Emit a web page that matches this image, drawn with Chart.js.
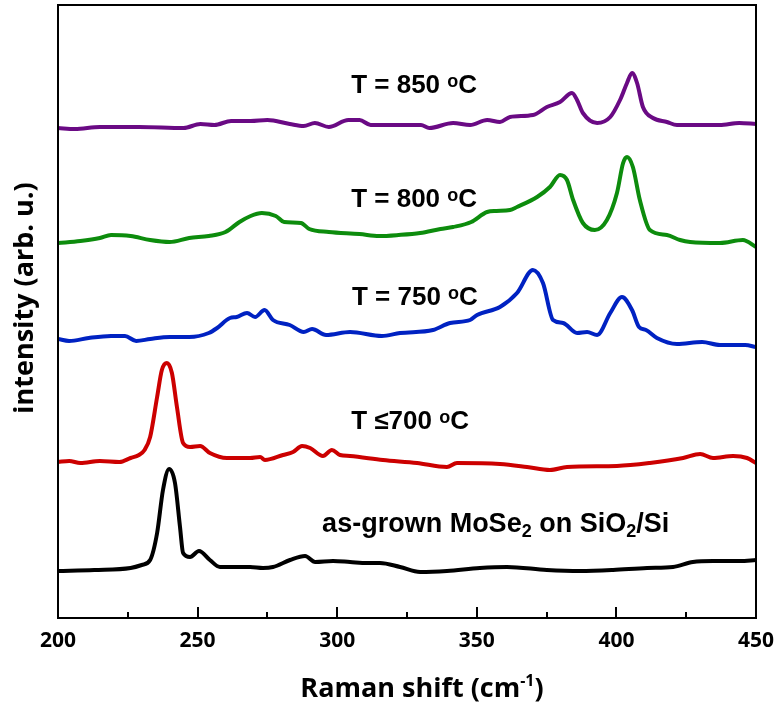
<!DOCTYPE html>
<html>
<head>
<meta charset="utf-8">
<script src="https://cdn.jsdelivr.net/npm/chart.js@4/dist/chart.umd.min.js"></script>
<style>
  body { margin: 0; background: #fff; }
  #wrap { width: 777px; height: 706px; }
</style>
</head>
<body>
<div id="wrap"><canvas id="raman" width="777" height="706"></canvas></div>
<script>
// Raman shift (cm-1) and intensity (arb. u.), one pair per spectrum
const xTicks = [200, 250, 300, 350, 400, 450];

const wn850 = [200, 206, 215, 229, 245, 251, 256, 262, 269, 275, 283, 288, 292, 297, 304, 308, 312, 322, 330, 333, 341.5, 347.6, 353.7, 358.3, 361.9, 370.1, 375.1, 379.8, 384.1, 385.9, 388, 393.1, 397.8, 401.3, 403.8, 405.6, 407.4, 409.5, 413.1, 418.1, 421.7, 430, 437, 444, 450];
const int850 = [490, 489, 491, 491, 490, 494, 493, 497, 497, 498, 494, 492, 495, 491, 498, 498, 493, 493, 493, 490, 495, 493, 498, 496, 501, 503, 511, 516, 525, 518, 505, 495, 501, 518, 535, 545, 535, 511, 500, 496, 493, 493, 493, 495, 494];

const wn800 = [200, 208, 215, 219, 226, 233, 240, 247, 254, 260, 265, 269, 273, 278, 281, 287, 290, 297, 308, 315, 322, 329.7, 337, 341.5, 348, 353.7, 357, 361.9, 364.4, 371.6, 376.2, 379.8, 382.3, 384.5, 388, 392.3, 396.6, 400.2, 402.4, 403.8, 405.9, 408.4, 412, 418.1, 422.8, 426.4, 437.1, 445.3, 450];
const int800 = [375, 377, 380, 383, 382, 378, 376, 380, 382, 386, 396, 402, 405, 402, 396, 395, 389, 386, 384, 382, 383, 385, 389, 391, 396, 406, 407, 408, 411, 421, 431, 443, 438, 418, 395, 388, 398, 425, 455, 461, 451, 418, 388, 383, 378, 376, 375, 378, 371];

const wn750 = [200, 204, 211, 219, 224, 228, 233, 240, 247, 254, 257, 261.6, 264, 267.7, 270.6, 274, 277, 283, 288, 291, 296, 304.6, 316, 322.5, 334.3, 340.4, 347.6, 350.1, 358.3, 364.4, 370.1, 373.7, 377.3, 380.9, 385.9, 389.5, 393.1, 397.8, 402, 405.6, 408.1, 410.6, 414.5, 421.7, 430.7, 437.1, 446.1, 450];
const int750 = [279, 277, 280, 282, 282, 277, 279, 281, 281, 285, 290, 300, 301, 305, 301, 308, 298, 293, 286, 289, 283, 286, 282, 285, 288, 295, 298, 303, 311, 325, 348, 335, 298, 295, 285, 286, 283, 305, 321, 308, 291, 288, 280, 274, 276, 273, 273, 271];

const wn700 = [200, 204, 208, 215, 222, 226, 229, 231, 233, 235.5, 237.2, 239, 240.8, 242.6, 244.8, 247.3, 250.9, 254.4, 260.5, 268.8, 272.4, 274.1, 280.6, 284.2, 287.4, 290.3, 294.9, 298.1, 301, 304.6, 316.4, 328.6, 339.3, 342.9, 358.3, 368, 376.2, 382.3, 400.2, 412, 423.9, 430, 434.6, 441.8, 446.8, 450];
const int700 = [156, 157, 155, 157, 156, 160, 163, 168, 181, 221, 248, 255, 245, 211, 175, 171, 172, 165, 160, 160, 161, 158, 163, 166, 172, 170, 162, 168, 163, 162, 158, 155, 151, 155, 154, 151, 148, 151, 152, 155, 160, 164, 160, 162, 160, 155];

const wnAsGrown = [200, 213, 226, 230, 233, 235.5, 237.6, 239.8, 241.9, 243.7, 244.8, 247.3, 250.5, 254.4, 258, 268.8, 273.4, 277, 283.1, 288.5, 292.1, 298.5, 304.6, 310.7, 315.3, 322.5, 329.7, 339.3, 351.1, 360.8, 375.1, 387, 398.8, 411, 420.3, 427.4, 434.6, 444.3, 450];
const intAsGrown = [47, 48, 50, 53, 58, 85, 128, 149, 135, 91, 65, 61, 67, 58, 51, 51, 50, 51, 58, 62, 56, 57, 56, 55, 55, 51, 46, 47, 50, 51, 48, 47, 48, 50, 51, 56, 57, 57, 58];

function toPoints(xs, ys) {
    return xs.map((x, i) => ({ x: x, y: ys[i] }));
}

function spectrum(label, xs, ys, color) {
    return {
        label: label,
        data: toPoints(xs, ys),
        borderColor: color,
        borderWidth: 4,
        borderJoinStyle: 'round',
        borderCapStyle: 'round',
        pointRadius: 0,
        cubicInterpolationMode: 'monotone',
        fill: false
    };
}

const LABEL_FONT = '"Liberation Sans", Arial, sans-serif';
const TITLE_FONT = '"Open Sans", sans-serif';

// draws "T = 850 °C" with the small raised o
function drawTemp(ctx, x, y, main) {
    ctx.font = 'bold 26px ' + LABEL_FONT;
    ctx.fillText(main, x, y);
    let w = ctx.measureText(main + ' ').width;
    ctx.font = 'bold 18px ' + LABEL_FONT;
    ctx.fillText('o', x + w, y - 6);
    w += ctx.measureText('o').width;
    ctx.font = 'bold 26px ' + LABEL_FONT;
    ctx.fillText('C', x + w, y);
}

// text pieces, with subscripts / superscripts marked
function drawRich(ctx, x, y, parts, size, smallSize, family) {
    let cx = x;
    parts.forEach(p => {
        const small = p.sub || p.sup;
        ctx.font = 'bold ' + (small ? smallSize : size) + 'px ' + family;
        ctx.fillText(p.t, cx, y + (p.sub ? 5 : 0) - (p.sup ? 11 : 0));
        cx += ctx.measureText(p.t).width;
    });
    return cx - x;
}

function richWidth(ctx, parts, size, smallSize, family) {
    let w = 0;
    parts.forEach(p => {
        ctx.font = 'bold ' + ((p.sub || p.sup) ? smallSize : size) + 'px ' + family;
        w += ctx.measureText(p.t).width;
    });
    return w;
}

const overlay = {
    id: 'overlay',
    afterDraw(chart) {
        const { ctx, chartArea: a } = chart;
        const x = chart.scales.x;
        const y = chart.scales.y;
        ctx.save();
        ctx.strokeStyle = '#000';
        ctx.fillStyle = '#000';
        ctx.lineWidth = 2;
        ctx.strokeRect(a.left, a.top, a.right - a.left, a.bottom - a.top);

        // inward ticks on the bottom axis
        for (let v = 225; v < 450; v += 25) {
            const px = Math.round(x.getPixelForValue(v));
            const len = v % 50 === 0 ? 11 : 6;
            ctx.beginPath();
            ctx.moveTo(px, a.bottom);
            ctx.lineTo(px, a.bottom - len);
            ctx.stroke();
        }

        // curve labels
        ctx.textBaseline = 'alphabetic';
        ctx.textAlign = 'left';
        drawTemp(ctx, x.getPixelForValue(305), y.getPixelForValue(525), 'T = 850');
        drawTemp(ctx, x.getPixelForValue(305), y.getPixelForValue(411), 'T = 800');
        drawTemp(ctx, x.getPixelForValue(305.3), y.getPixelForValue(313), 'T = 750');
        drawTemp(ctx, x.getPixelForValue(305), y.getPixelForValue(189), 'T \u2264700');
        drawRich(ctx, x.getPixelForValue(294.6), y.getPixelForValue(86), [
            { t: 'as-grown MoSe' }, { t: '2', sub: true }, { t: ' on SiO' },
            { t: '2', sub: true }, { t: '/Si' }
        ], 27, 18, LABEL_FONT);

        // x axis title with superscript
        const xTitle = [{ t: 'Raman shift (cm' }, { t: '-1', sup: true }, { t: ')' }];
        const tw = richWidth(ctx, xTitle, 27, 16, TITLE_FONT);
        drawRich(ctx, 422 - tw / 2, 697, xTitle, 27, 16, TITLE_FONT);

        // y axis title
        ctx.save();
        ctx.translate(33, 298);
        ctx.rotate(-Math.PI / 2);
        ctx.textAlign = 'center';
        ctx.font = 'bold 27px ' + TITLE_FONT;
        ctx.fillText('intensity (arb. u.)', 0, 0);
        ctx.restore();

        ctx.restore();
    }
};

new Chart(document.getElementById('raman'), {
    type: 'line',
    data: {
        datasets: [
            spectrum('T = 850 °C', wn850, int850, '#6a0a84'),
            spectrum('T = 800 °C', wn800, int800, '#0d8c0d'),
            spectrum('T = 750 °C', wn750, int750, '#0022c2'),
            spectrum('T ≤ 700 °C', wn700, int700, '#cc0000'),
            spectrum('as-grown MoSe2 on SiO2/Si', wnAsGrown, intAsGrown, '#000000')
        ]
    },
    options: {
        responsive: false,
        animation: false,
        layout: { padding: { top: 5, right: 21, left: 0, bottom: 0 } },
        plugins: {
            legend: { display: false },
            tooltip: { enabled: false }
        },
        scales: {
            x: {
                type: 'linear',
                min: xTicks[0],
                max: xTicks[xTicks.length - 1],
                afterBuildTicks: scale => { scale.ticks = xTicks.map(v => ({ value: v })); },
                ticks: {
                    color: '#000',
                    padding: 10,
                    maxRotation: 0,
                    font: { family: 'Open Sans', weight: 'bold', size: 21 }
                },
                grid: { display: false, drawTicks: false },
                border: { display: false },
                afterFit: scale => {
                    scale.height = 88;
                    scale.paddingLeft = 0;
                    scale.paddingRight = 0;
                }
            },
            y: {
                min: 0,
                max: 613,
                ticks: { display: false },
                grid: { display: false, drawTicks: false },
                border: { display: false },
                afterFit: scale => { scale.width = 58; }
            }
        }
    },
    plugins: [overlay]
});
</script>
</body>
</html>
